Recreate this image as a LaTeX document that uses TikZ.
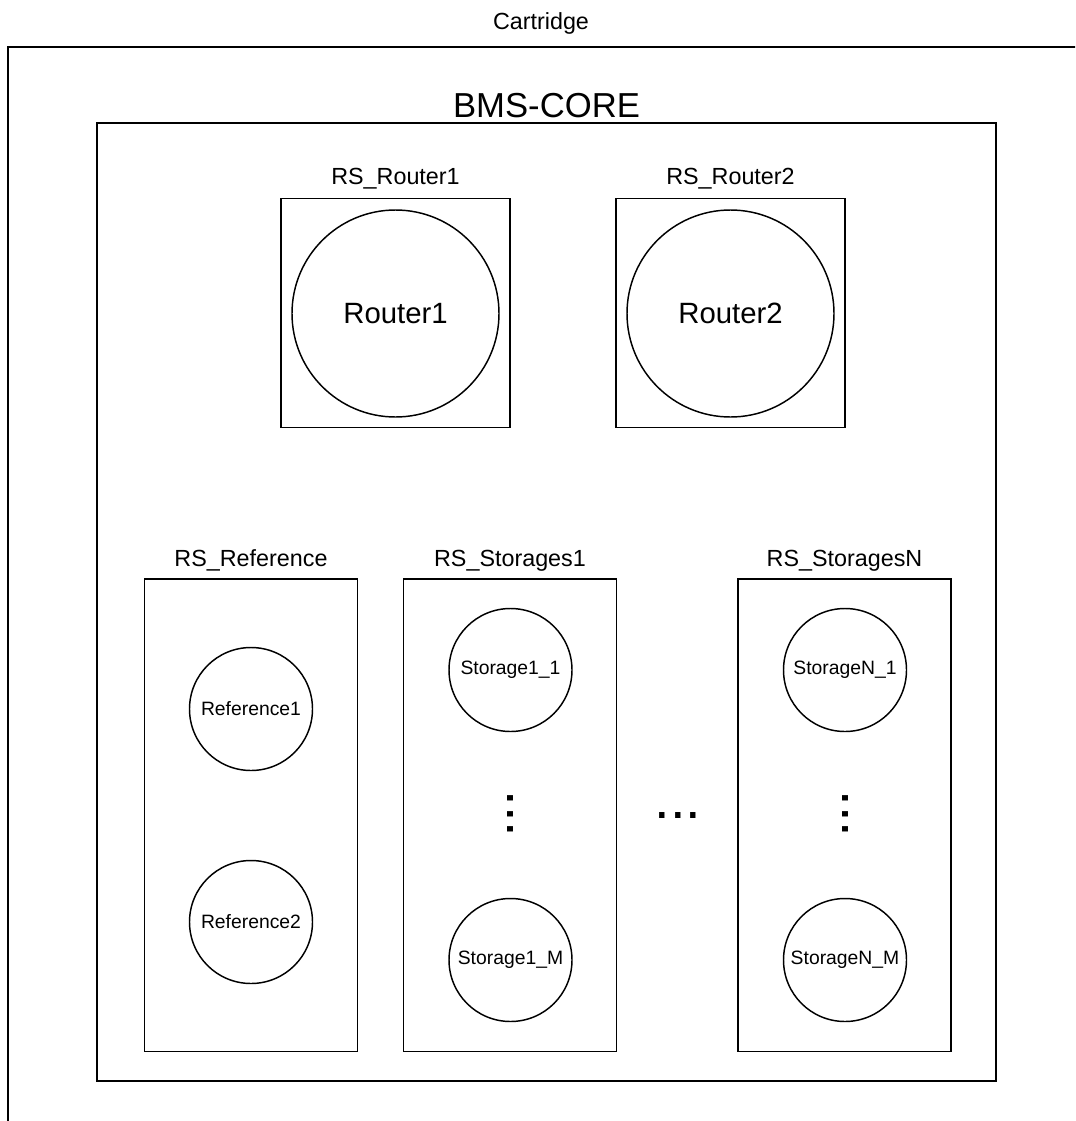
\documentclass[tikz,border=0pt]{standalone}
\usepackage{fontspec}
\setmainfont{Liberation Sans}
\usetikzlibrary{calc}

\tikzset{
	frame/.style={draw, line width=1.1pt, inner sep=0pt},
	rsbox/.style={frame, minimum width=159.75pt, minimum height=354.4pt},
	rtbox/.style={frame, minimum width=171.75pt, minimum height=171.75pt},
	bigcirc/.style={frame, circle, minimum size=155.25pt, font=\fontsize{22}{24}\selectfont},
	smallcirc/.style={frame, circle, minimum size=92.25pt, font=\fontsize{14.5}{16}\selectfont},
	rslabel/.style={anchor=base, font=\fontsize{17.5}{20}\selectfont},
	dots/.style={anchor=base, inner sep=0pt, font=\fontsize{42}{44}\selectfont},
}

\begin{document}
\begin{tikzpicture}[x=0.75pt, y=-0.75pt]
		\useasboundingbox (0,0) rectangle (1075,1121);
		\clip (0,0) rectangle (1075,1121);

		\coordinate (P) at (8,1200);
		\coordinate (Q) at (1200,47);
		\draw[line width=1.1pt] (P) |- (Q);
		\node[anchor=base, font=\fontsize{17.5}{20}\selectfont] (cartridge) at (541,29) {Cartridge};

		\node[frame, minimum width=674.25pt, minimum height=718.5pt] (core) at (546.5,602) {};
		\node[anchor=base, font=\fontsize{26}{28}\selectfont] (corelabel) at ($(core.north)+(0,-5)$) {BMS-CORE};

		\node[rtbox] (rsrouter1) at (395.5,313) {};
		\node[rtbox] (rsrouter2) at (730.5,313) {};
		\node[rslabel] at ($(rsrouter1.north)+(0,-13)$) {RS\_Router1};
		\node[rslabel] at ($(rsrouter2.north)+(0,-13)$) {RS\_Router2};
		\node[bigcirc] (router1) at (395.5,313.5) {Router1};
		\node[bigcirc] (router2) at (730.5,313.5) {Router2};

		\node[rsbox] (rsref) at (251,815.25) {};
		\node[rsbox] (rsstor1) at (510,815.25) {};
		\node[rsbox] (rsstorn) at (844.5,815.25) {};
		\node[rslabel] at ($(rsref.north)+(0,-12)$) {RS\_Reference};
		\node[rslabel] at ($(rsstor1.north)+(0,-12)$) {RS\_Storages1};
		\node[rslabel] at ($(rsstorn.north)+(0,-12)$) {RS\_StoragesN};

		\node[smallcirc] (ref1) at (251,709) {Reference1};
		\node[smallcirc] (ref2) at (251,922) {Reference2};
		\node[smallcirc] (stor11) at (510.5,670) {Storage1\_1};
		\node[smallcirc] (stor1m) at (510.5,960) {Storage1\_M};
		\node[smallcirc] (storn1) at (845,670) {StorageN\_1};
		\node[smallcirc] (stornm) at (845,960) {StorageN\_M};

		\node[dots, rotate=-90] (vdots1) at (507.2,814) {...};
		\node[dots, rotate=-90] (vdotsn) at (842.2,814) {...};
		\node[dots] (hdots) at (678,818.8) {...};

	\end{tikzpicture}
\end{document}
